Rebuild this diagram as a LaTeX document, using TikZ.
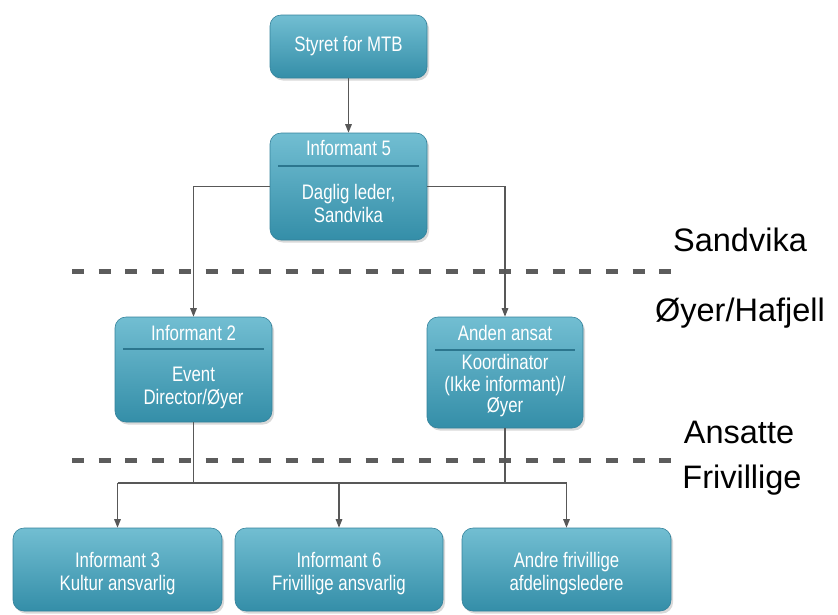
\documentclass[tikz,border=0pt]{standalone}
\usepackage{fontspec}
\setmainfont{Liberation Sans}
\newfontfamily\boxfont[FakeStretch=0.8]{Liberation Sans}
\usetikzlibrary{arrows.meta,shadows}

\definecolor{boxtop}{RGB}{114,190,210}
\definecolor{boxbot}{RGB}{52,142,168}
\definecolor{boxedge}{RGB}{52,130,155}
\definecolor{headrule}{RGB}{44,118,142}
\definecolor{wire}{RGB}{88,88,88}
\definecolor{zoneline}{RGB}{92,92,92}

\begin{document}
\begin{tikzpicture}[x=1pt,y=-1pt,
  orgbox/.style={draw=boxedge, line width=0.6pt, rounded corners=11pt,
    top color=boxtop, bottom color=boxbot,
    drop shadow={shadow xshift=2pt,shadow yshift=-2.5pt,opacity=0.3},
    inner sep=0pt},
  boxtext/.style={text=white, font=\boxfont\fontsize{21}{23}\selectfont,
    align=center, inner sep=0pt},
  headrulestyle/.style={draw=headrule, line width=1.4pt},
  link/.style={draw=wire, line width=1.3pt},
  arrowlink/.style={link, -{Triangle[length=8.5pt,width=6.5pt]}},
  zone/.style={draw=zoneline, line width=5pt, dash pattern=on 12pt off 14.7pt},
  zonelabel/.style={font=\fontsize{32.5}{38}\selectfont, text=black, inner sep=0pt}]

\useasboundingbox (0,0) rectangle (838,614);

% boundary lines between locations / groups
\coordinate (zoneAl) at (72,271);
\coordinate (zoneAr) at (680,271);
\coordinate (zoneBl) at (72,460);
\coordinate (zoneBr) at (680,460);
\draw[zone] (zoneAl) -- (zoneAr);
\draw[zone] (zoneBl) -- (zoneBr);

% zone labels
\node[zonelabel] (lsandvika) at (740,240) {Sandvika};
\node[zonelabel] (loyer) at (740,313) {Øyer/Hafjell};
\node[zonelabel] (lansatte) at (739,432) {Ansatte};
\node[zonelabel] (lfrivillige) at (742,480) {Frivillige};

% top level
\node[orgbox, boxtext, minimum width=157pt, minimum height=63pt]
  (styret) at (348.5,46.5) {Styret for MTB};

\node[orgbox, minimum width=157pt, minimum height=107pt] (inf5) at (348.5,186.5) {};
\node[boxtext] (inf5head) at (348.5,148) {Informant 5};
\draw[headrulestyle] (278,166) -- (419,166);
\node[boxtext] (inf5body) at (348.5,203.5) {Daglig leder,\\Sandvika};

% middle level
\node[orgbox, minimum width=157pt, minimum height=105pt] (inf2) at (193.5,369.5) {};
\node[boxtext] (inf2head) at (193.5,333) {Informant 2};
\draw[headrulestyle] (123,349) -- (264,349);
\node[boxtext] (inf2body) at (193.5,387.5) {Event\\Director/Øyer};

\node[orgbox, minimum width=156pt, minimum height=111pt] (anden) at (505,372.5) {};
\node[boxtext] (andenhead) at (505,333) {Anden ansat};
\draw[headrulestyle] (435,350) -- (575,350);
\node[boxtext, font=\boxfont\fontsize{21}{21.5}\selectfont] (andenbody) at (505,386)
  {Koordinator\\(Ikke informant)/\\Øyer};

% volunteers
\node[orgbox, minimum width=209pt, minimum height=83pt] (inf3) at (117.5,569.5) {};
\node[boxtext] (inf3txt) at (117.5,573.5) {Informant 3\\Kultur ansvarlig};

\node[orgbox, minimum width=208pt, minimum height=83pt] (inf6) at (339,569.5) {};
\node[boxtext] (inf6txt) at (339,573.5) {Informant 6\\Frivillige ansvarlig};

\node[orgbox, minimum width=209pt, minimum height=83pt] (andre) at (566.5,569.5) {};
\node[boxtext] (andretxt) at (566.5,573.5) {Andre frivillige\\afdelingsledere};

% connectors
\draw[arrowlink] (styret.south) -- (inf5.north);
\draw[arrowlink] (inf5.west) -| (inf2.north);
\draw[arrowlink] (inf5.east) -| (anden.north);

\coordinate (bus) at (0,483);
\draw[link] (inf2.south) -- (inf2.south |- bus);
\draw[link] (anden.south) -- (anden.south |- bus);
\draw[link] (inf3.north |- bus) -- (andre.north |- bus);
\draw[arrowlink] (inf3.north |- bus) -- (inf3.north);
\draw[arrowlink] (inf6.north |- bus) -- (inf6.north);
\draw[arrowlink] (andre.north |- bus) -- (andre.north);

\end{tikzpicture}
\end{document}
